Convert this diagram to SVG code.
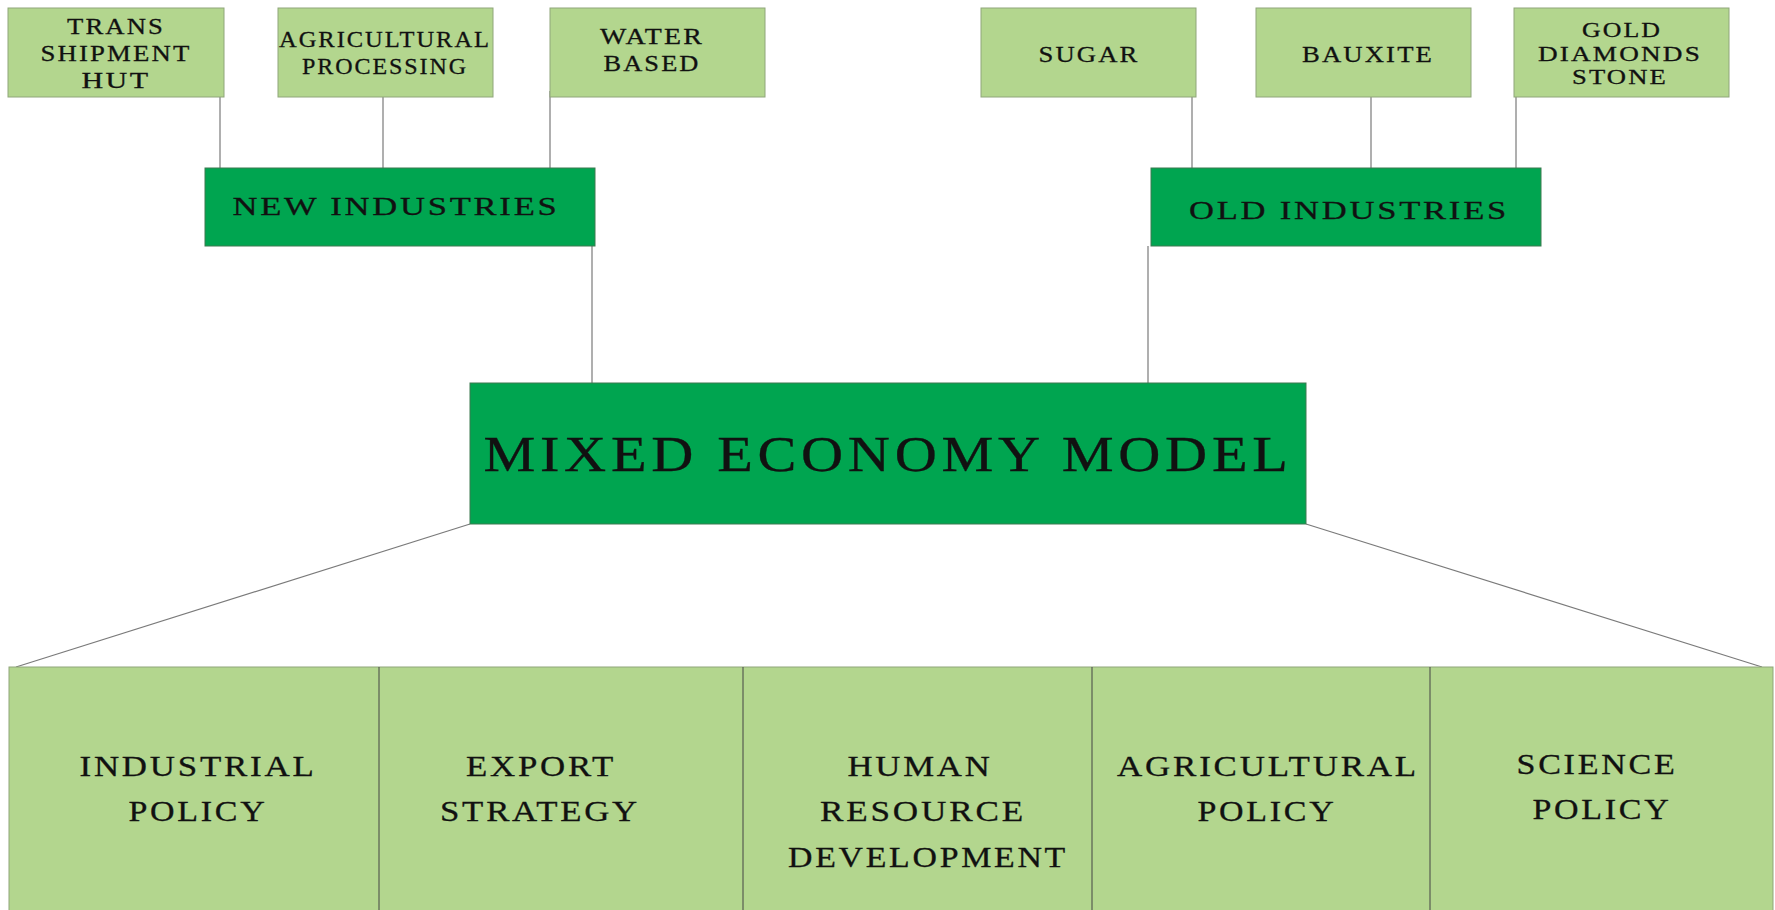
<svg xmlns="http://www.w3.org/2000/svg" width="1775" height="910" viewBox="0 0 1775 910">
<style>
.lt{fill:#b3d68e;stroke:#8fa67a;stroke-width:1}
.dk{fill:#00a550;stroke:#3c7a50;stroke-width:1}
.t{font-family:"Liberation Serif","Times New Roman",serif;fill:#111;stroke:#111;stroke-width:0.3;text-anchor:middle;letter-spacing:0.08em}
.s{font-size:24px}
.g{font-size:21px}
.m{font-size:26px}
.b{font-size:30px}
.c{stroke:#7a7a7a;stroke-width:1.2;fill:none}
.dv{stroke:#444;stroke-width:1}
</style>
<rect width="1775" height="910" fill="#ffffff"/>
<g id="connectors">
<line class="c" x1="220" y1="97" x2="220" y2="169"/>
<line class="c" x1="383" y1="97" x2="383" y2="169"/>
<line class="c" x1="550" y1="91" x2="550" y2="169"/>
<line class="c" x1="592" y1="246" x2="592" y2="383"/>
<line class="c" x1="1192" y1="97" x2="1192" y2="169"/>
<line class="c" x1="1371" y1="97" x2="1371" y2="169"/>
<line class="c" x1="1516" y1="97" x2="1516" y2="169"/>
<line class="c" x1="1148" y1="246" x2="1148" y2="383"/>
<line class="c" x1="470" y1="524" x2="16" y2="667"/>
<line class="c" x1="1306" y1="524" x2="1762" y2="667"/>
</g>
<g id="trans">
<rect class="lt" x="8" y="8" width="216" height="89"/>
<text class="t s" x="116" y="34" textLength="98" lengthAdjust="spacingAndGlyphs">TRANS</text>
<text class="t s" x="116" y="61" textLength="151" lengthAdjust="spacingAndGlyphs">SHIPMENT</text>
<text class="t s" x="116" y="88" textLength="69" lengthAdjust="spacingAndGlyphs">HUT</text>
</g>
<g id="agri-processing">
<rect class="lt" x="278" y="8" width="215" height="89"/>
<text class="t s" x="385" y="47" textLength="212" lengthAdjust="spacingAndGlyphs">AGRICULTURAL</text>
<text class="t s" x="385" y="74" textLength="166" lengthAdjust="spacingAndGlyphs">PROCESSING</text>
</g>
<g id="water">
<rect class="lt" x="550" y="8" width="215" height="89"/>
<text class="t s" x="652" y="44" textLength="104" lengthAdjust="spacingAndGlyphs">WATER</text>
<text class="t s" x="652" y="71" textLength="97" lengthAdjust="spacingAndGlyphs">BASED</text>
</g>
<g id="sugar">
<rect class="lt" x="981" y="8" width="215" height="89"/>
<text class="t s" x="1089" y="62" textLength="101" lengthAdjust="spacingAndGlyphs">SUGAR</text>
</g>
<g id="bauxite">
<rect class="lt" x="1256" y="8" width="215" height="89"/>
<text class="t s" x="1368" y="62" textLength="132" lengthAdjust="spacingAndGlyphs">BAUXITE</text>
</g>
<g id="gold">
<rect class="lt" x="1514" y="8" width="215" height="89"/>
<text class="t g" x="1622" y="37" textLength="80" lengthAdjust="spacingAndGlyphs">GOLD</text>
<text class="t g" x="1620" y="60.5" textLength="164" lengthAdjust="spacingAndGlyphs">DIAMONDS</text>
<text class="t g" x="1620" y="84" textLength="96" lengthAdjust="spacingAndGlyphs">STONE</text>
</g>
<g id="new-industries">
<rect class="dk" x="205" y="168" width="390" height="78"/>
<text class="t m" x="396" y="215" textLength="327" lengthAdjust="spacingAndGlyphs">NEW INDUSTRIES</text>
</g>
<g id="old-industries">
<rect class="dk" x="1151" y="168" width="390" height="78"/>
<text class="t m" x="1349" y="219" textLength="320" lengthAdjust="spacingAndGlyphs">OLD INDUSTRIES</text>
</g>
<g id="mixed">
<rect class="dk" x="470" y="383" width="836" height="141"/>
<text class="t" style="font-size:50px" x="888" y="471" textLength="809" lengthAdjust="spacingAndGlyphs">MIXED ECONOMY MODEL</text>
</g>
<g id="policies">
<rect class="lt" x="9" y="667" width="1764" height="250"/>
<line class="dv" x1="379" y1="667" x2="379" y2="910"/>
<line class="dv" x1="743" y1="667" x2="743" y2="910"/>
<line class="dv" x1="1092" y1="667" x2="1092" y2="910"/>
<line class="dv" x1="1430" y1="667" x2="1430" y2="910"/>
</g>
<g id="industrial-policy">
<text class="t b" x="198" y="776" textLength="237" lengthAdjust="spacingAndGlyphs">INDUSTRIAL</text>
<text class="t b" x="198" y="821" textLength="139" lengthAdjust="spacingAndGlyphs">POLICY</text>
</g>
<g id="export-strategy">
<text class="t b" x="541" y="776" textLength="150" lengthAdjust="spacingAndGlyphs">EXPORT</text>
<text class="t b" x="540" y="821" textLength="200" lengthAdjust="spacingAndGlyphs">STRATEGY</text>
</g>
<g id="hrd">
<text class="t b" x="920" y="776" textLength="145" lengthAdjust="spacingAndGlyphs">HUMAN</text>
<text class="t b" x="923" y="821" textLength="206" lengthAdjust="spacingAndGlyphs">RESOURCE</text>
<text class="t b" x="928" y="867" textLength="280" lengthAdjust="spacingAndGlyphs">DEVELOPMENT</text>
</g>
<g id="agri-policy">
<text class="t b" x="1268" y="776" textLength="302" lengthAdjust="spacingAndGlyphs">AGRICULTURAL</text>
<text class="t b" x="1267" y="821" textLength="139" lengthAdjust="spacingAndGlyphs">POLICY</text>
</g>
<g id="science-policy">
<text class="t b" x="1597" y="774" textLength="161" lengthAdjust="spacingAndGlyphs">SCIENCE</text>
<text class="t b" x="1602" y="819" textLength="139" lengthAdjust="spacingAndGlyphs">POLICY</text>
</g>
</svg>
